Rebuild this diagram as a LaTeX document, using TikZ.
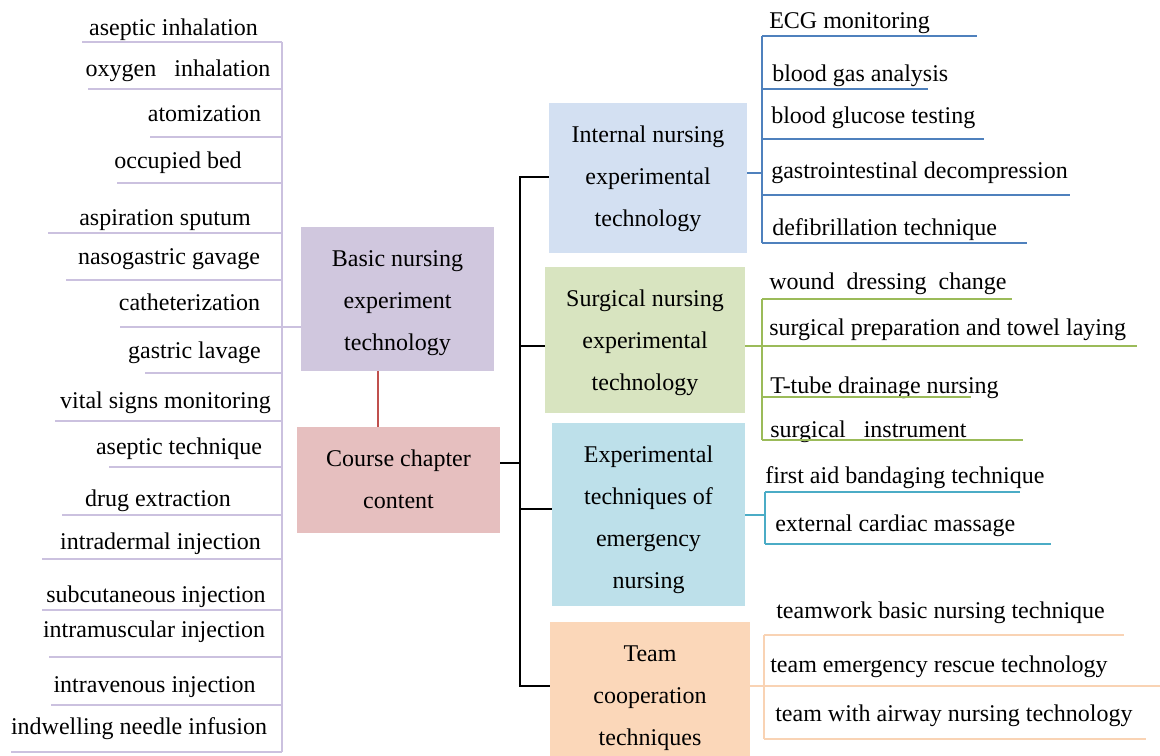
\documentclass[tikz,border=0pt]{standalone}
\usepackage{fontspec}
\setmainfont{Liberation Serif}
\usetikzlibrary{positioning,calc}
\definecolor{lightpurple}{HTML}{D0C7DE}
\definecolor{purpleline}{HTML}{CBC1DF}
\definecolor{lightrose}{HTML}{E6BFBF}
\definecolor{roseline}{HTML}{C0504D}
\definecolor{lightblue}{HTML}{D3E0F2}
\definecolor{blueline}{HTML}{4F81BD}
\definecolor{lightgreen}{HTML}{D8E4C0}
\definecolor{greenline}{HTML}{9BBB59}
\definecolor{lightcyan}{HTML}{BDE0EA}
\definecolor{cyanline}{HTML}{4BACC6}
\definecolor{lightpeach}{HTML}{FBD7B9}
\definecolor{peachline}{HTML}{F9D3B4}
\tikzset{
  box/.style={inner sep=0pt},
  boxtext/.style={inner sep=0pt,align=center,font=\fontsize{18}{31.5}\selectfont},
  item/.style={inner sep=0pt,font=\fontsize{18}{21}\selectfont},
  trunk/.style={draw=black,line width=1.8pt},
  purplelink/.style={draw=purpleline,line width=1.6pt},
  redlink/.style={draw=roseline,line width=1.5pt},
  bluelink/.style={draw=blueline,line width=2.2pt},
  greenlink/.style={draw=greenline,line width=2.2pt},
  cyanlink/.style={draw=cyanline,line width=2.2pt},
  peachlink/.style={draw=peachline,line width=2.2pt}}

\begin{document}
\begin{tikzpicture}[x=0.75pt,y=-0.75pt]
  \useasboundingbox (0,0) rectangle (1160,756);
  % main boxes
  \node[box,fill=lightpurple,minimum width=144.75pt,minimum height=108pt] (basic) at (397.5,299) {};
  \node[boxtext] (basic-t) at (397.5,303) {Basic nursing\\experiment\\technology};
  \node[box,fill=lightrose,minimum width=152.25pt,minimum height=79.5pt] (course) at (398.5,480) {};
  \node[boxtext] (course-t) at (398.5,479) {Course chapter\\content};
  \node[box,fill=lightblue,minimum width=148.5pt,minimum height=112.5pt] (internal) at (648,178) {};
  \node[boxtext] (internal-t) at (648,179) {Internal nursing\\experimental\\technology};
  \node[box,fill=lightgreen,minimum width=150pt,minimum height=109.5pt] (surgical) at (645,340) {};
  \node[boxtext] (surgical-t) at (645,343) {Surgical nursing\\experimental\\technology};
  \node[box,fill=lightcyan,minimum width=144.75pt,minimum height=137.25pt] (emergency) at (648.5,514.5) {};
  \node[boxtext] (emergency-t) at (648.5,519.5) {Experimental\\techniques of\\emergency\\nursing};
  \node[box,fill=lightpeach,minimum width=150pt,minimum height=100.5pt] (team) at (650,689) {};
  \node[boxtext] (team-t) at (650,698) {Team\\cooperation\\techniques};

  % trunk
  \coordinate (hub) at (520,463);
  \draw[redlink] ($(basic.south)+(-19.5,0)$) -- ($(course.north)+(-20.5,0)$);
  \draw[trunk] ([yshift=12.75pt]course.east) -- (hub);
  \draw[trunk] (hub) |- (internal.west |- 0,177);
  \draw[trunk] (hub) |- (surgical.west |- 0,346);
  \draw[trunk] (hub) |- (emergency.west |- 0,509);
  \draw[trunk] (hub) |- (team.west |- 0,686);

  % basic nursing list
  \coordinate (lspine) at (282,327);
  \draw[purplelink] (basic.west |- lspine) -- (lspine);
  \draw[purplelink] (282,42) -- (282,752);
  \foreach \txt/\cx/\bl/\ly/\lx [count=\i] in {
      aseptic inhalation/173.5/36/42/82,
      oxygen\ \ \ inhalation/178/77/89/88,
      atomization/204.5/122/137/150,
      occupied bed/178/169/183/117,
      aspiration sputum/165/225/233/48,
      nasogastric gavage/169/264/280/66,
      catheterization/189.5/310/327/120,
      gastric lavage/194.5/358/373/145,
      vital signs monitoring/165.5/408/421/55,
      aseptic technique/179/454/467/109,
      drug extraction/158/506/515/62,
      intradermal injection/160.5/549/559/42,
      subcutaneous injection/156/602/610/42,
      intramuscular injection/154/637/657/49,
      intravenous injection/154.5/692/705/51,
      indwelling needle infusion/139/734/752/11} {
    \node[item,anchor=base] (b\i) at (\cx,\bl) {\txt};
    \coordinate (bl\i) at (\lx,\ly);
    \draw[purplelink] (bl\i) -- (bl\i -| lspine);
  }

  % internal nursing list
  \coordinate (ispine) at (762,173);
  \draw[bluelink] (internal.east |- ispine) -- (ispine);
  \draw[bluelink] (762,36) -- (762,243);
  \foreach \txt/\tx/\bl/\ly/\ex [count=\i] in {
      ECG monitoring/769/29/36/977,
      blood gas analysis/772/82/89/928,
      blood glucose testing/771/124/139/984,
      gastrointestinal decompression/771/179/195/1070,
      defibrillation technique/772/235/243/1027} {
    \node[item,anchor=base west] (i\i) at (\tx,\bl) {\txt};
    \coordinate (il\i) at (\ex,\ly);
    \draw[bluelink] (ispine |- il\i) -- (il\i);
  }

  % surgical nursing list
  \coordinate (sspine) at (762,346);
  \draw[greenlink] (surgical.east |- sspine) -- (sspine);
  \draw[greenlink] (762,299) -- (762,440);
  \foreach \txt/\tx/\bl/\ly/\ex [count=\i] in {
      wound\ \ dressing\ \ change/769/289/299/1012,
      surgical preparation and towel laying/769/335/346/1137,
      T-tube drainage nursing/770/393/397/971,
      surgical\ \ \ instrument/770/437/440/1023} {
    \node[item,anchor=base west] (s\i) at (\tx,\bl) {\txt};
    \coordinate (sl\i) at (\ex,\ly);
    \draw[greenlink] (sspine |- sl\i) -- (sl\i);
  }

  % emergency nursing list
  \coordinate (espine) at (765,515);
  \draw[cyanlink] (emergency.east |- espine) -- (espine);
  \draw[cyanlink] (765,492) -- (765,544);
  \foreach \txt/\tx/\bl/\ly/\ex [count=\i] in {
      first aid bandaging technique/765/483/492/1020,
      external cardiac massage/775/531/544/1051} {
    \node[item,anchor=base west] (e\i) at (\tx,\bl) {\txt};
    \coordinate (el\i) at (\ex,\ly);
    \draw[cyanlink] (espine |- el\i) -- (el\i);
  }

  % team cooperation list
  \coordinate (tspine) at (764,686);
  \draw[peachlink] (team.east |- tspine) -- (tspine);
  \draw[peachlink] (764,635) -- (764,739);
  \foreach \txt/\tx/\bl/\ly/\ex [count=\i] in {
      teamwork basic nursing technique/776/618/635/1124,
      team emergency rescue technology/770/672/686/1160,
      team with airway nursing technology/775/721/739/1146} {
    \node[item,anchor=base west] (t\i) at (\tx,\bl) {\txt};
    \coordinate (tl\i) at (\ex,\ly);
    \draw[peachlink] (tspine |- tl\i) -- (tl\i);
  }
\end{tikzpicture}
\end{document}
